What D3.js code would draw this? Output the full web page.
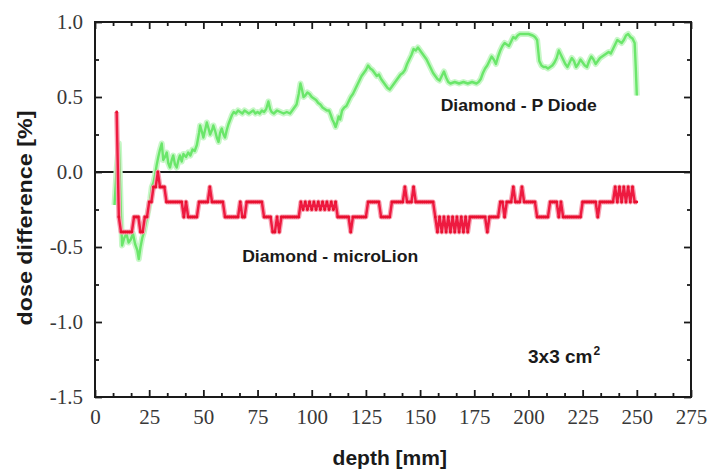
<!DOCTYPE html>
<html>
<head>
<meta charset="utf-8">
<script src="https://cdn.jsdelivr.net/npm/d3@7/dist/d3.min.js"></script>
<style>
  html, body { margin: 0; padding: 0; background: #fff; }
  svg { display: block; }
  .tick-label { font-family: "Liberation Serif", "Times New Roman", serif; font-size: 21px; fill: #383838; }
  .title { font-family: "Liberation Sans", Arial, sans-serif; font-weight: bold; fill: #1a1a1a; }
</style>
</head>
<body>
<svg id="chart" width="708" height="473"></svg>
<script>
// Depth-dose difference, 3x3 cm2 field

// Diamond - P Diode: depth [mm] and dose difference [%]
const diodeDepth = [
  9, 10, 11, 12, 12.5, 13.5, 14.5, 15.5, 16.5, 17.5, 18.5, 19.5, 20.2, 21, 21.8, 22.6, 23.3, 24, 24.8, 25.5,
  26.2, 27, 27.7, 28.5, 29.2, 30, 30.8, 31.5, 32.3, 33.1, 33.8, 34.6, 35.4, 36.1, 36.9, 37.7, 38.5, 39.2, 40, 40.8,
  42, 43, 44, 45, 46, 47, 48, 48.5, 49.3, 50, 50.8, 51.6, 52.4, 53.1, 54, 54.6, 55.5, 56.2, 57, 57.7,
  58.5, 59.3, 60, 60.8, 61.6, 62.4, 63.2, 64, 65, 66, 67, 68, 69, 70, 71, 72, 73, 74, 75, 76,
  77, 78, 79, 80, 80.8, 81.5, 82.5, 84, 85.5, 87, 88.5, 90, 91, 92, 93, 94, 94.8, 95.5, 96.2, 97,
  98, 99, 100, 101, 102, 103, 104, 105, 106, 107, 108, 108.8, 109.5, 110.2, 111, 111.7, 112.4, 113.1, 114, 115,
  116, 117, 118, 119, 120, 121, 122, 123, 124, 125, 126, 127, 128, 129, 130, 131, 132, 133, 134, 135,
  136, 137, 138, 139, 140, 141, 142, 143, 144, 145, 146, 147, 148, 149, 150, 151, 152, 153, 154, 155,
  156, 157, 158, 159, 160, 161, 162, 163, 164, 166, 168, 170, 172, 174, 176, 177, 178, 179, 180, 181,
  182, 183, 184, 185, 186, 187, 188, 189, 190, 191, 192, 193, 194, 195, 196, 198, 200, 202, 203, 204,
  205, 206, 207, 208, 209, 210, 211, 212, 213, 214, 215, 216, 217, 218, 219, 220, 221, 222, 223, 224,
  225, 226, 227, 228, 229, 230, 231, 232, 233, 234, 235, 236, 237, 238, 239, 240, 241, 242, 243, 244,
  245, 246, 247, 248, 249, 249.5, 250
];
const diodeDiff = [
  -0.22, 0.02, 0.19, -0.30, -0.49, -0.44, -0.41, -0.47, -0.45, -0.41, -0.48, -0.52, -0.58, -0.50, -0.44, -0.40, -0.35, -0.30, -0.24, -0.18,
  -0.10, -0.07, -0.02, 0.05, 0.10, 0.15, 0.19, 0.08, 0.10, 0.13, 0.06, 0.03, 0.08, 0.11, 0.05, 0.03, 0.08, 0.11, 0.07, 0.12,
  0.10, 0.13, 0.11, 0.15, 0.14, 0.18, 0.26, 0.31, 0.27, 0.23, 0.28, 0.33, 0.29, 0.25, 0.28, 0.31, 0.27, 0.23, 0.20, 0.26,
  0.29, 0.25, 0.23, 0.28, 0.32, 0.35, 0.38, 0.40, 0.39, 0.41, 0.40, 0.39, 0.41, 0.40, 0.39, 0.40, 0.41, 0.39, 0.40, 0.39,
  0.41, 0.40, 0.42, 0.47, 0.42, 0.40, 0.39, 0.41, 0.40, 0.39, 0.40, 0.39, 0.41, 0.43, 0.45, 0.52, 0.59, 0.55, 0.50, 0.51,
  0.53, 0.52, 0.50, 0.49, 0.48, 0.46, 0.45, 0.43, 0.42, 0.41, 0.41, 0.38, 0.35, 0.33, 0.30, 0.33, 0.37, 0.35, 0.41, 0.43,
  0.44, 0.47, 0.50, 0.52, 0.55, 0.58, 0.61, 0.64, 0.66, 0.68, 0.71, 0.69, 0.68, 0.66, 0.64, 0.65, 0.62, 0.60, 0.58, 0.56,
  0.55, 0.57, 0.59, 0.61, 0.63, 0.65, 0.66, 0.68, 0.72, 0.75, 0.78, 0.82, 0.81, 0.83, 0.81, 0.79, 0.77, 0.75, 0.72, 0.69,
  0.66, 0.64, 0.62, 0.61, 0.64, 0.67, 0.63, 0.60, 0.59, 0.60, 0.59, 0.60, 0.59, 0.60, 0.59, 0.60, 0.62, 0.66, 0.69, 0.71,
  0.74, 0.77, 0.75, 0.72, 0.77, 0.81, 0.84, 0.86, 0.85, 0.84, 0.87, 0.90, 0.89, 0.91, 0.92, 0.92, 0.92, 0.91, 0.90, 0.88,
  0.74, 0.71, 0.70, 0.70, 0.69, 0.70, 0.71, 0.73, 0.76, 0.81, 0.78, 0.75, 0.72, 0.70, 0.73, 0.76, 0.74, 0.70, 0.72, 0.75,
  0.73, 0.71, 0.70, 0.74, 0.77, 0.75, 0.72, 0.74, 0.76, 0.77, 0.78, 0.79, 0.80, 0.79, 0.82, 0.85, 0.88, 0.87, 0.86, 0.88,
  0.91, 0.92, 0.90, 0.89, 0.86, 0.70, 0.51
];

// Diamond - microLion: one reading per millimetre from 10 mm to 250 mm
const ionDepth = d3.range(10, 251);
const ionDiff = [
  0.4, -0.3, -0.4, -0.4, -0.4, -0.4, -0.4, -0.4, -0.3, -0.3,          // 10-19
  -0.3, -0.4, -0.4, -0.3, -0.3, -0.2, -0.2, -0.1, -0.1, 0.0,          // 20-29
  -0.1, -0.1, -0.1, -0.2, -0.2, -0.2, -0.2, -0.2, -0.2, -0.2,         // 30-39
  -0.2, -0.3, -0.2, -0.3, -0.3, -0.3, -0.3, -0.3, -0.2, -0.2,         // 40-49
  -0.2, -0.2, -0.2, -0.1, -0.2, -0.2, -0.2, -0.2, -0.2, -0.2,         // 50-59
  -0.3, -0.3, -0.3, -0.3, -0.3, -0.3, -0.3, -0.2, -0.3, -0.3,         // 60-69
  -0.2, -0.2, -0.2, -0.2, -0.2, -0.2, -0.2, -0.2, -0.3, -0.3,         // 70-79
  -0.3, -0.3, -0.4, -0.4, -0.3, -0.4, -0.3, -0.3, -0.3, -0.3,         // 80-89
  -0.3, -0.3, -0.3, -0.3, -0.3, -0.2, -0.25, -0.2, -0.25, -0.2,       // 90-99
  -0.25, -0.2, -0.25, -0.2, -0.25, -0.2, -0.25, -0.2, -0.25, -0.2,    // 100-109
  -0.25, -0.2, -0.3, -0.3, -0.3, -0.3, -0.3, -0.3, -0.4, -0.3,        // 110-119
  -0.3, -0.3, -0.3, -0.3, -0.3, -0.3, -0.2, -0.2, -0.2, -0.2,         // 120-129
  -0.2, -0.2, -0.3, -0.3, -0.3, -0.3, -0.3, -0.2, -0.2, -0.2,         // 130-139
  -0.2, -0.2, -0.2, -0.1, -0.2, -0.2, -0.2, -0.1, -0.2, -0.2,         // 140-149
  -0.2, -0.2, -0.2, -0.2, -0.2, -0.2, -0.2, -0.3, -0.4, -0.3,         // 150-159
  -0.4, -0.3, -0.4, -0.3, -0.4, -0.3, -0.4, -0.3, -0.4, -0.3,         // 160-169
  -0.4, -0.3, -0.4, -0.3, -0.3, -0.3, -0.3, -0.3, -0.3, -0.3,         // 170-179
  -0.3, -0.4, -0.3, -0.3, -0.3, -0.3, -0.3, -0.2, -0.2, -0.3,         // 180-189
  -0.2, -0.2, -0.2, -0.1, -0.2, -0.2, -0.2, -0.1, -0.2, -0.2,         // 190-199
  -0.2, -0.2, -0.2, -0.2, -0.3, -0.3, -0.3, -0.3, -0.3, -0.3,         // 200-209
  -0.2, -0.2, -0.2, -0.2, -0.3, -0.2, -0.3, -0.3, -0.3, -0.3,         // 210-219
  -0.3, -0.3, -0.3, -0.3, -0.3, -0.2, -0.2, -0.2, -0.2, -0.2,         // 220-229
  -0.2, -0.2, -0.3, -0.2, -0.2, -0.2, -0.2, -0.2, -0.2, -0.2,         // 230-239
  -0.1, -0.2, -0.1, -0.2, -0.1, -0.2, -0.1, -0.2, -0.1, -0.2,         // 240-249
  -0.2                                                                 // 250
];

// Axis ticks
const xMajorTicks = [0, 25, 50, 75, 100, 125, 150, 175, 200, 225, 250, 275];
const yMajorTicks = [1.0, 0.5, 0.0, -0.5, -1.0, -1.5];
const xTickLabels = ["0", "25", "50", "75", "100", "125", "150", "175", "200", "225", "250", "275"];
const yTickLabels = ["1.0", "0.5", "0.0", "-0.5", "-1.0", "-1.5"];

// Titles and annotations
const xTitle = "depth [mm]";
const yTitle = "dose difference [%]";
const diodeLabel = "Diamond - P Diode";
const ionLabel = "Diamond - microLion";
const fieldLabel = "3x3 cm";
const fieldSup = "2";

const margin = { left: 95, right: 17, top: 22, bottom: 76 };
const W = 708, H = 473;
const iw = W - margin.left - margin.right;
const ih = H - margin.top - margin.bottom;

const svg = d3.select("#chart");
const g = svg.append("g").attr("transform", `translate(${margin.left},${margin.top})`);

const x = d3.scaleLinear().domain([0, 275]).range([0, iw]);
const y = d3.scaleLinear().domain([-1.5, 1.0]).range([ih, 0]);

const xMinor = d3.range(0, 275.01, 25 / 3).filter(v => xMajorTicks.every(t => Math.abs(t - v) > 1e-6));
const yMinor = [0.75, 0.25, -0.25, -0.75, -1.25];

function styleAxis(sel) {
  sel.attr("font-family", null).attr("font-size", null);
  sel.select(".domain").remove();
  sel.selectAll(".tick line").attr("stroke", "#1a1a1a").attr("stroke-width", 1.8);
  sel.selectAll(".tick text").attr("class", "tick-label").attr("fill", null);
}

// bottom axis with labels
g.append("g").attr("transform", `translate(0,${ih})`)
  .call(d3.axisBottom(x).tickValues(xMajorTicks).tickSize(-7).tickPadding(12)
    .tickFormat((d, i) => xTickLabels[i]))
  .call(styleAxis);
g.append("g").attr("transform", `translate(0,${ih})`)
  .call(d3.axisBottom(x).tickValues(xMinor).tickSize(-4).tickFormat(""))
  .call(styleAxis);

// top axis (ticks only)
g.append("g")
  .call(d3.axisTop(x).tickValues(xMajorTicks).tickSize(-7).tickFormat(""))
  .call(styleAxis);
g.append("g")
  .call(d3.axisTop(x).tickValues(xMinor).tickSize(-4).tickFormat(""))
  .call(styleAxis);

// left axis with labels
g.append("g")
  .call(d3.axisLeft(y).tickValues(yMajorTicks).tickSize(-7).tickPadding(12)
    .tickFormat((d, i) => yTickLabels[i]))
  .call(styleAxis);
g.append("g")
  .call(d3.axisLeft(y).tickValues(yMinor).tickSize(-4).tickFormat(""))
  .call(styleAxis);

// right axis (ticks only)
g.append("g").attr("transform", `translate(${iw},0)`)
  .call(d3.axisRight(y).tickValues(yMajorTicks).tickSize(-7).tickFormat(""))
  .call(styleAxis);
g.append("g").attr("transform", `translate(${iw},0)`)
  .call(d3.axisRight(y).tickValues(yMinor).tickSize(-4).tickFormat(""))
  .call(styleAxis);

// zero reference line
g.append("line")
  .attr("x1", 0).attr("x2", iw).attr("y1", y(0)).attr("y2", y(0))
  .attr("stroke", "#1a1a1a").attr("stroke-width", 2);

// data lines
const diodeData = diodeDepth.map((d, i) => [d, diodeDiff[i]]);
const ionData = ionDepth.map((d, i) => [d, ionDiff[i]]);
const line = d3.line().x(d => x(d[0])).y(d => y(d[1]));

const plot = g.append("g");

// Diamond - P Diode (green)
plot.append("path").datum(diodeData).attr("d", line)
  .attr("fill", "none").attr("stroke", "#c8f7c8").attr("stroke-width", 6)
  .attr("stroke-linejoin", "round");
plot.append("path").datum(diodeData).attr("d", line)
  .attr("fill", "none").attr("stroke", "#6ae66a").attr("stroke-width", 2.4)
  .attr("stroke-linejoin", "round");

// Diamond - microLion (red)
plot.append("path").datum(ionData).attr("d", line)
  .attr("fill", "none").attr("stroke", "#f7a3b3").attr("stroke-width", 5)
  .attr("stroke-linejoin", "round");
plot.append("path").datum(ionData).attr("d", line)
  .attr("fill", "none").attr("stroke", "#ee1a40").attr("stroke-width", 2.4)
  .attr("stroke-linejoin", "round");
plot.selectAll("circle.ion").data(ionData).enter().append("circle")
  .attr("class", "ion")
  .attr("cx", d => x(d[0])).attr("cy", d => y(d[1])).attr("r", 1.4)
  .attr("fill", "#e8102f");

// frame
g.append("rect").attr("x", 0).attr("y", 0).attr("width", iw).attr("height", ih)
  .attr("fill", "none").attr("stroke", "#1a1a1a").attr("stroke-width", 2);

// annotations
g.append("text").attr("class", "title").attr("x", x(159.5)).attr("y", y(0.41))
  .attr("font-size", 17).attr("textLength", 156).attr("lengthAdjust", "spacingAndGlyphs")
  .text(diodeLabel);
g.append("text").attr("class", "title").attr("x", x(67.9)).attr("y", y(-0.6))
  .attr("font-size", 17).attr("textLength", 176).attr("lengthAdjust", "spacingAndGlyphs")
  .text(ionLabel);
const field = g.append("text").attr("class", "title").attr("x", x(199.8)).attr("y", y(-1.27))
  .attr("font-size", 19);
field.append("tspan").text(fieldLabel);
field.append("tspan").attr("font-size", 12).attr("dy", -8).attr("dx", 1).text(fieldSup);

// axis titles
svg.append("text").attr("class", "title")
  .attr("x", margin.left + x(136)).attr("y", 465)
  .attr("text-anchor", "middle").attr("font-size", 21)
  .text(xTitle);
svg.append("text").attr("class", "title")
  .attr("transform", "translate(32,218) rotate(-90)")
  .attr("text-anchor", "middle").attr("font-size", 21)
  .attr("textLength", 215).attr("lengthAdjust", "spacingAndGlyphs")
  .text(yTitle);
</script>
</body>
</html>
